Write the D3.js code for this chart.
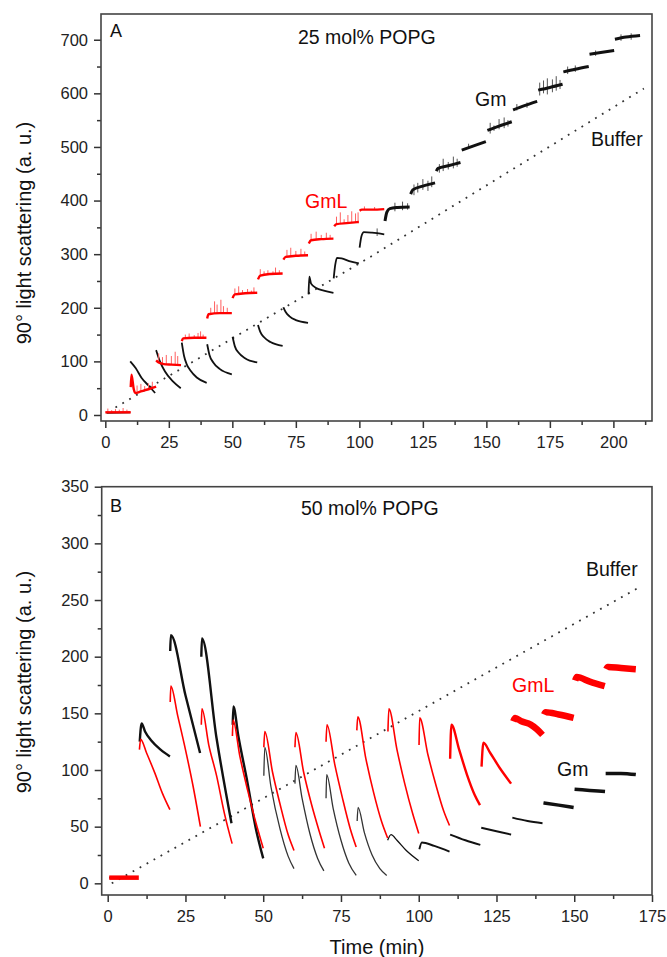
<!DOCTYPE html>
<html>
<head>
<meta charset="utf-8">
<script src="https://cdn.jsdelivr.net/npm/d3@7"></script>
<style>
  body { margin: 0; background: #fff; }
  svg text { font-family: "Liberation Sans", Arial, sans-serif; }
</style>
</head>
<body>
<svg id="chart" width="667" height="957"></svg>
<script>
// ---- panel A : 25 mol% POPG ----
// one list of [min, value] knots for every 10 min step
const gmA = [
  [[0.5, 4], [9.8, 5]],
  [[9.8, 100], [12, 87], [14.3, 69], [17, 55], [19.6, 41]],
  [[20, 121], [21.5, 100], [23.5, 81], [26.5, 63], [29.7, 50]],
  [[30.1, 135], [31, 110], [32, 95], [33.5, 83], [36, 70], [39.9, 60]],
  [[40.1, 132], [41, 112], [42.5, 98], [45, 86], [49.8, 76]],
  [[50.1, 146], [51, 128], [52.5, 116], [55, 106], [59.8, 98]],
  [[60.1, 168], [61, 155], [62.5, 145], [65, 136], [69.8, 129]],
  [[70.1, 201], [71, 192], [72.5, 184], [75, 177], [79.8, 172]],
  [[80, 225], [80.3, 258], [81, 245], [83, 237], [86, 232], [89.8, 228]],
  [[89.9, 255], [90.5, 280], [91.2, 293], [93, 292], [96, 287], [99.8, 283]],
  [[100.1, 312], [100.8, 333], [101.8, 341], [105, 340], [109.8, 337]],
  [[110.1, 362], [110.8, 378], [112, 385], [115, 387], [119.8, 388]],
  [[120.2, 412], [121, 420], [125, 427], [129.8, 433]],
  [[130.3, 455], [131, 460], [135, 465], [139.8, 471]],
  [[140.3, 494], [145, 502], [149.8, 510]],
  [[150.4, 531], [155, 539], [160, 547]],
  [[160.5, 569], [165, 577], [170, 585]],
  [[170.4, 606], [175, 611], [180, 617]],
  [[180.3, 640], [185, 645], [190.3, 650]],
  [[190.6, 673], [195, 676], [200.3, 680]],
  [[200.6, 701], [205, 705], [210.5, 708]]
]
const gmlA = [
  [[0, 5], [5, 5], [10, 5]],
  [[10, 52], [10.3, 75], [11.2, 48], [11.8, 41], [14, 44], [17, 48], [20, 53]],
  [[20, 102], [21, 98], [23, 95], [26, 94], [29.8, 93]],
  [[30.1, 138], [30.6, 143], [35, 144], [39.8, 144]],
  [[40.1, 180], [40.6, 188], [45, 190], [49.8, 190]],
  [[50.1, 218], [51, 225], [55, 227], [59.8, 228]],
  [[60.1, 253], [61, 260], [65, 263], [69.8, 264]],
  [[70.1, 290], [71, 295], [75, 297], [79.8, 298]],
  [[80.1, 320], [81, 326], [85, 328], [89.8, 329]],
  [[90.1, 352], [91, 356], [95, 358], [99.8, 360]],
  [[100.1, 381], [101, 383], [105, 383], [109.8, 384]]
]
// upward spikes on the GmL trace: [min, low, high]
const gmlSpikesA = [
  [1, 4, 12], [2.5, 4, 9], [4, 4, 11], [5.5, 5, 10], [7, 5, 13], [8.5, 5, 10],
  [12.5, 42, 55], [14, 44, 58], [15.5, 45, 54], [17, 47, 59], [18.5, 50, 62],
  [21, 97, 115], [22.5, 95, 108], [24, 94, 112], [26, 94, 110], [27.5, 93, 118], [28.5, 93, 110],
  [31.5, 143, 150], [33, 143, 152], [35, 144, 149], [36.5, 144, 153], [37.5, 144, 156], [38.5, 144, 150],
  [41.5, 188, 200], [43, 189, 212], [44, 189, 206], [45.5, 190, 215], [46.5, 190, 203], [48, 190, 200],
  [51, 224, 236], [52.5, 226, 240], [54, 226, 233], [56, 227, 235], [57.5, 227, 232], [58.5, 227, 238],
  [61, 259, 272], [62.5, 261, 268], [64, 262, 270], [66, 263, 268], [67, 263, 275], [68.5, 264, 270],
  [71.5, 295, 308], [73, 296, 312], [75, 297, 306], [77, 297, 310], [78.5, 298, 305],
  [81, 326, 338], [83, 327, 342], [85, 328, 336], [87, 328, 340], [88.5, 329, 336],
  [91, 355, 370], [92.5, 356, 378], [94, 357, 365], [95.5, 357, 373], [97, 358, 380], [98.5, 359, 376], [99.5, 359, 378],
  [102, 383, 389], [106, 383, 388]
]
// noise on the Gm trace: [min, low, high]
const gmJitterA = [
  [107, 334, 348],
  [114, 380, 396], [117, 382, 398], [119, 383, 395],
  [121.5, 410, 430], [123, 415, 433], [125, 420, 440], [127, 418, 437], [128.5, 425, 445],
  [131.5, 452, 468], [133, 455, 478], [135, 458, 472], [137, 460, 482], [138.5, 463, 478],
  [143, 498, 506],
  [151.5, 525, 545], [153, 530, 540], [155, 533, 552], [157, 535, 555], [158.5, 538, 550],
  [162, 568, 580], [166, 573, 583],
  [171, 596, 620], [172.5, 600, 624], [174, 598, 628], [176, 602, 626], [177.5, 605, 632], [179, 608, 625],
  [182, 636, 650], [185, 640, 652],
  [193, 670, 680],
  [203, 698, 710], [207, 700, 712]
]
const bufferA = [[4, 14], [104, 294], [212, 609]]
const xTicksA = [0, 25, 50, 75, 100, 125, 150, 175, 200]
const yTicksA = [0, 100, 200, 300, 400, 500, 600, 700]

// ---- panel B : 50 mol% POPG ----
const gmB = [
  [[0.5, 5], [9.5, 5]],
  [[10.3, 125], [10.9, 141], [12, 134], [14, 126], [17, 118], [20, 112]],
  [[20.1, 205], [20.3, 219], [25, 166], [29.7, 115]],
  [[30.1, 200], [30.3, 216], [35, 128], [39.8, 53]],
  [[40.2, 140], [40.4, 156], [42, 130], [45, 88], [47.5, 50], [50, 22]],
  [[50.2, 95], [50.5, 120], [52.5, 85], [55.4, 48], [58, 24], [59.9, 13]],
  [[60.2, 88], [60.5, 104], [62.5, 75], [65, 44], [67.5, 22], [69.5, 11]],
  [[70.2, 75], [70.4, 96], [72.5, 66], [75, 38], [77.5, 18], [79.9, 7]],
  [[80.2, 55], [80.5, 67], [82.5, 45], [85, 25], [87.5, 13], [89.7, 7]],
  [[90, 38], [91.1, 43], [93, 38], [96, 29], [100, 20]],
  [[100.2, 30], [101, 36], [105, 33], [109.9, 28]],
  [[110.1, 43], [115, 38], [119.8, 34]],
  [[120.1, 49], [125, 46], [129.7, 43]],
  [[130.1, 58], [135, 55], [139.8, 53]],
  [[140.1, 71], [145, 69], [149.8, 67]],
  [[150.1, 83], [155, 82], [159.9, 81]],
  [[160.1, 97], [165, 97], [169.8, 96]]
]
const gmlB = [
  [[0.5, 5], [5, 5], [10, 5]],
  [[10.2, 118], [10.6, 127], [12.5, 115], [15.2, 97], [17.5, 80], [20, 65]],
  [[20.1, 160], [20.3, 174], [22.5, 148], [25, 118], [27.5, 85], [29.8, 50]],
  [[30.1, 140], [30.3, 154], [32.5, 122], [35, 95], [37.5, 62], [40, 35]],
  [[40.1, 130], [40.3, 144], [42.5, 112], [45, 82], [47.5, 55], [50, 31]],
  [[50.2, 120], [50.5, 134], [53, 98], [55.4, 70], [58, 43], [59.9, 29]],
  [[60.2, 120], [60.5, 133], [63, 98], [65.5, 70], [68, 46], [69.7, 31]],
  [[70.2, 125], [70.5, 140], [73, 105], [75.5, 75], [78, 48], [79.9, 32]],
  [[80.1, 135], [80.4, 147], [83, 110], [85.5, 80], [88, 55], [90, 40]],
  [[90.1, 134], [90.4, 154], [93, 118], [95.5, 88], [98, 62], [100, 44]],
  [[100.1, 122], [100.3, 146], [103, 113], [105.5, 87], [108, 64], [109.9, 51]],
  [[110.1, 110], [110.5, 140], [113, 118], [115.5, 96], [118, 78], [119.7, 69]],
  [[120.2, 103], [120.8, 124], [123, 115], [126, 102], [129.7, 88]],
  [[130.4, 143], [131, 146], [133, 143], [136, 140], [138, 136], [139.8, 131]],
  [[140.3, 149], [140.8, 151], [145, 149], [149.8, 146]],
  [[150.3, 179], [150.8, 182], [155, 178], [159.8, 174]],
  [[160.3, 189], [160.8, 191], [165, 190], [169.8, 189]]
]
const bufferB = [[1.3, 0], [171.4, 262]]
const xTicksB = [0, 25, 50, 75, 100, 125, 150, 175]
const yTicksB = [0, 50, 100, 150, 200, 250, 300, 350]

const svg = d3.select('#chart')
const red = '#ff0000'

const drawPanel = (cfg) => {
  const x = d3.scaleLinear().domain(cfg.xDomain).range([cfg.left, cfg.right])
  const y = d3.scaleLinear().domain(cfg.yDomain).range([cfg.bottom, cfg.top])
  const g = svg.append('g')

  const mid = t => t.slice(0, -1).map((v, i) => (v + t[i + 1]) / 2)
  const styleAxis = sel => {
    sel.select('.domain').remove()
    sel.selectAll('line').attr('stroke', '#333').attr('stroke-width', 1.5)
    sel.selectAll('text').attr('fill', '#222').style('font-size', '16.5px')
  }

  g.append('g')
    .attr('transform', `translate(0,${cfg.bottom})`)
    .call(d3.axisBottom(x).tickValues(cfg.xTicks).tickSize(7).tickPadding(8))
    .call(styleAxis)
  g.append('g')
    .attr('transform', `translate(0,${cfg.bottom})`)
    .call(d3.axisBottom(x).tickValues(mid(cfg.xTicks).concat(cfg.xExtraMinor || [])).tickSize(4).tickFormat(''))
    .call(styleAxis)
  g.append('g')
    .attr('transform', `translate(${cfg.left},0)`)
    .call(d3.axisLeft(y).tickValues(cfg.yTicks).tickSize(7).tickPadding(6))
    .call(styleAxis)
  g.append('g')
    .attr('transform', `translate(${cfg.left},0)`)
    .call(d3.axisLeft(y).tickValues(mid(cfg.yTicks)).tickSize(4).tickFormat(''))
    .call(styleAxis)

  const plot = g.append('g')

  const line = d3.line().x(d => x(d[0])).y(d => y(d[1])).curve(d3.curveMonotoneX)

  plot.append('path')
    .attr('d', d3.line().x(d => x(d[0])).y(d => y(d[1]))(cfg.buffer))
    .attr('fill', 'none')
    .attr('stroke', '#333')
    .attr('stroke-width', 1.8)
    .attr('stroke-dasharray', '1.8,6.2')

  if (cfg.jitter) {
    plot.selectAll('line.jit')
      .data(cfg.jitter)
      .enter()
      .append('line')
      .attr('x1', d => x(d[0])).attr('x2', d => x(d[0]))
      .attr('y1', d => y(d[1])).attr('y2', d => y(d[2]))
      .attr('stroke', '#555')
      .attr('stroke-width', 1)
  }

  plot.selectAll('path.gm')
    .data(cfg.gm)
    .enter()
    .append('path')
    .attr('d', line)
    .attr('fill', 'none')
    .attr('stroke', (d, i) => cfg.gmColor(i))
    .attr('stroke-width', (d, i) => cfg.gmWidth(i))
    .attr('stroke-linejoin', 'round')

  if (cfg.spikes) {
    plot.selectAll('line.spk')
      .data(cfg.spikes)
      .enter()
      .append('line')
      .attr('x1', d => x(d[0])).attr('x2', d => x(d[0]))
      .attr('y1', d => y(d[1])).attr('y2', d => y(d[2]))
      .attr('stroke', '#ff6060')
      .attr('stroke-width', 1)
  }

  plot.selectAll('path.gml')
    .data(cfg.gml)
    .enter()
    .append('path')
    .attr('d', line)
    .attr('fill', 'none')
    .attr('stroke', red)
    .attr('stroke-width', (d, i) => cfg.gmlWidth(i))
    .attr('stroke-linejoin', 'round')

  g.append('rect')
    .attr('x', cfg.left).attr('y', cfg.top)
    .attr('width', cfg.right - cfg.left).attr('height', cfg.bottom - cfg.top)
    .attr('fill', 'none')
    .attr('stroke', '#444')
    .attr('stroke-width', 1.6)

  g.append('text')
    .attr('transform', `translate(31,${cfg.labelY}) rotate(-90)`)
    .attr('text-anchor', 'middle')
    .style('font-size', '20px')
    .attr('fill', '#111')
    .text('90° light scattering (a. u.)')

  cfg.notes.forEach(n => {
    g.append('text')
      .attr('x', n.x).attr('y', n.y)
      .style('font-size', n.size || '19.5px')
      .attr('fill', n.color || '#111')
      .text(n.text)
  })
}

drawPanel({
  left: 101, right: 652, top: 14, bottom: 421,
  xDomain: [-1.7, 215.2], yDomain: [-11.2, 748],
  xTicks: xTicksA, xExtraMinor: [212.5], yTicks: yTicksA,
  gm: gmA, gml: gmlA, spikes: gmlSpikesA, jitter: gmJitterA, buffer: bufferA,
  gmColor: i => '#111',
  gmWidth: i => i <= 10 ? 1.8 : 3,
  gmlWidth: i => 2.4,
  labelY: 233,
  notes: [
    { text: 'A', x: 110, y: 37, size: '18px' },
    { text: '25 mol% POPG', x: 298, y: 44 },
    { text: 'Gm', x: 475, y: 106 },
    { text: 'Buffer', x: 591, y: 145.5 },
    { text: 'GmL', x: 305, y: 208, color: red }
  ]
})

drawPanel({
  left: 101.7, right: 652, top: 486.7, bottom: 895,
  xDomain: [-1.93, 175], yDomain: [-10.3, 350],
  xTicks: xTicksB, yTicks: yTicksB,
  gm: gmB, gml: gmlB, buffer: bufferB,
  gmColor: i => (i >= 5 && i <= 8) ? '#333' : '#111',
  gmWidth: i => i === 0 ? 2 : i <= 4 ? 2.4 : i <= 9 ? 1.3 : i <= 13 ? 1.9 : 3.5,
  gmlWidth: i => i === 0 ? 4.5 : i <= 10 ? 1.6 : i <= 12 ? 2.4 : 6.5,
  labelY: 682,
  notes: [
    { text: 'B', x: 110, y: 512, size: '18px' },
    { text: '50 mol% POPG', x: 301, y: 515 },
    { text: 'Buffer', x: 586, y: 576 },
    { text: 'GmL', x: 512, y: 691.5, color: red },
    { text: 'Gm', x: 557, y: 776 }
  ]
})

svg.append('text')
  .attr('x', 377).attr('y', 954)
  .attr('text-anchor', 'middle')
  .style('font-size', '20px')
  .attr('fill', '#111')
  .text('Time (min)')
</script>
</body>
</html>
